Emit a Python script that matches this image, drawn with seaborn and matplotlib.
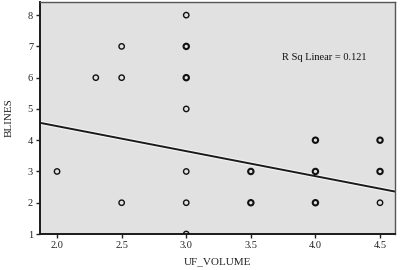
import matplotlib
matplotlib.use("Agg")
import matplotlib.pyplot as plt
import seaborn as sns
import numpy as np
import pandas as pd

# data
uf_volume = [2.0, 2.3, 2.5, 2.5, 2.5, 3.0, 3.0, 3.0, 3.0, 3.0, 3.0, 3.0, 3.5, 3.5, 4.0, 4.0, 4.0, 4.5, 4.5, 4.5]
blines    = [3,   6,   7,   6,   2,   8,   7,   6,   5,   3,   2,   1,   3,   2,   4,   3,   2,   4,   3,   2]
overlap   = [1,   1,   1,   1,   1,   1,   2,   2,   1,   1,   1,   1,   2,   2,   2,   2,   2,   2,   2,   1]
fit_intercept = 6.05
fit_slope = -0.80
r_sq = 0.121
x_ticks = [2.0, 2.5, 3.0, 3.5, 4.0, 4.5]
x_ticklabels = ["2.0", "2.5", "3.0", "3.5", "4.0", "4.5"]
y_ticks = [1, 2, 3, 4, 5, 6, 7, 8]

df = pd.DataFrame({"UF_VOLUME": uf_volume, "BLINES": blines, "n": overlap})

sns.set_style("white")
plt.rcParams["font.family"] = ["Liberation Serif", "DejaVu Serif"]

fig = plt.figure(figsize=(4.01, 2.70), dpi=100)
ax = fig.add_axes([40/401, 1 - 234/270, 355/401, 232/270])
ax.set_facecolor("#e1e1e1")

xlim = (1.868, 4.616)
ylim = (1.0, 8.42)

for n, lw in [(1, 1.0), (2, 1.5)]:
    sub = df[df["n"] == n]
    sns.scatterplot(data=sub, x="UF_VOLUME", y="BLINES", ax=ax, marker="o",
                    s=15, facecolor="none", edgecolor="#111111", linewidth=lw,
                    legend=False, zorder=3, clip_on=True)

line_df = pd.DataFrame({"x": list(xlim)})
line_df["y"] = fit_intercept + fit_slope * line_df["x"]
sns.lineplot(data=line_df, x="x", y="y", ax=ax, color="#f4f4f4", linewidth=3.0, zorder=2)
sns.lineplot(data=line_df, x="x", y="y", ax=ax, color="#1a1a1a", linewidth=1.4, zorder=2.5)

ax.text(4.07, 6.65, f"R Sq Linear = {r_sq:.3f}", fontsize=7.5, ha="center", va="center", color="#111111")

ax.set_xlim(*xlim)
ax.set_ylim(*ylim)
ax.set_xticks(x_ticks)
ax.set_xticklabels(x_ticklabels)
ax.set_yticks(y_ticks)
ax.tick_params(axis="both", labelsize=7.5, colors="#222222", length=3, width=1.0, direction="out",
               bottom=True, left=True, pad=2)
ax.set_xlabel("UF_VOLUME", fontsize=8, color="#222222", labelpad=5)
ax.set_ylabel("BLINES", fontsize=8, color="#222222", labelpad=10)

for side in ["left", "bottom"]:
    ax.spines[side].set_color("#1a1a1a")
    ax.spines[side].set_linewidth(1.4)
for side in ["top", "right"]:
    ax.spines[side].set_visible(True)
    ax.spines[side].set_color("#555555")
    ax.spines[side].set_linewidth(1.0)

fig.savefig("out.png", dpi=100)
